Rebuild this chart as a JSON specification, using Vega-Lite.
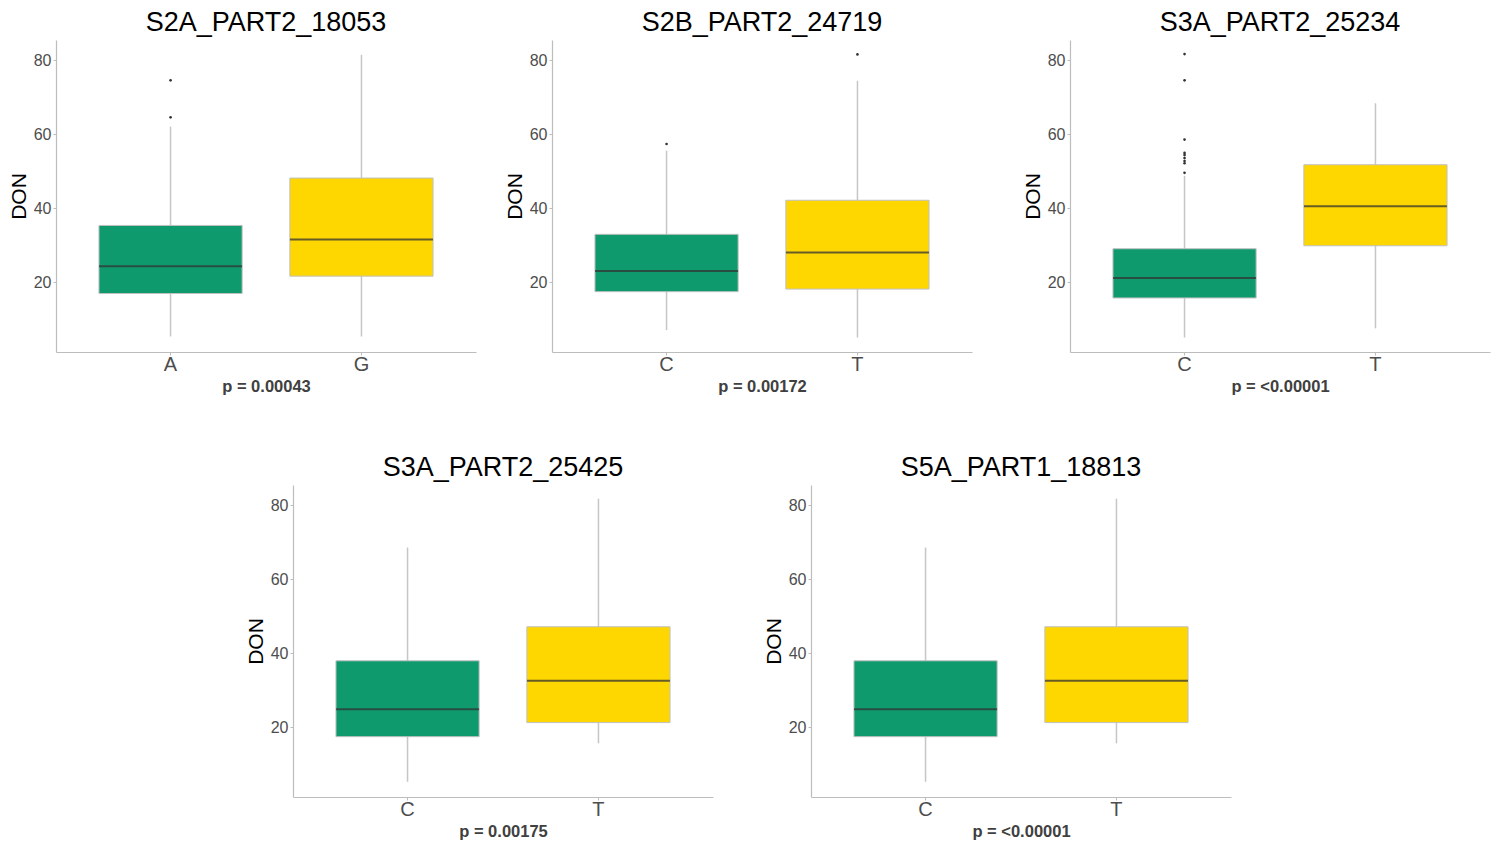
{
  "$schema": "https://vega.github.io/schema/vega-lite/v6.json",
  "padding": {"left": 8, "top": 9, "right": 4, "bottom": 4},
  "background": "white",
  "datasets": {
    "boxes": [
      {"panel": "S2A_PART2_18053", "allele": "A", "lower": 5.4, "q1": 17.0, "median": 24.4, "q3": 35.4, "upper": 62.1},
      {"panel": "S2A_PART2_18053", "allele": "G", "lower": 5.4, "q1": 21.7, "median": 31.6, "q3": 48.2, "upper": 81.5},
      {"panel": "S2B_PART2_24719", "allele": "C", "lower": 7.1, "q1": 17.5, "median": 23.1, "q3": 33.0, "upper": 55.6},
      {"panel": "S2B_PART2_24719", "allele": "T", "lower": 5.1, "q1": 18.2, "median": 28.1, "q3": 42.2, "upper": 74.5},
      {"panel": "S3A_PART2_25234", "allele": "C", "lower": 5.1, "q1": 15.8, "median": 21.2, "q3": 29.1, "upper": 48.8},
      {"panel": "S3A_PART2_25234", "allele": "T", "lower": 7.6, "q1": 29.9, "median": 40.6, "q3": 51.8, "upper": 68.4},
      {"panel": "S3A_PART2_25425", "allele": "C", "lower": 5.3, "q1": 17.5, "median": 24.9, "q3": 38.0, "upper": 68.6},
      {"panel": "S3A_PART2_25425", "allele": "T", "lower": 15.7, "q1": 21.3, "median": 32.6, "q3": 47.2, "upper": 81.8},
      {"panel": "S5A_PART1_18813", "allele": "C", "lower": 5.3, "q1": 17.5, "median": 24.9, "q3": 38.0, "upper": 68.6},
      {"panel": "S5A_PART1_18813", "allele": "T", "lower": 15.7, "q1": 21.3, "median": 32.6, "q3": 47.2, "upper": 81.8}
    ],
    "outliers": [
      {"panel": "S2A_PART2_18053", "allele": "A", "value": 64.6},
      {"panel": "S2A_PART2_18053", "allele": "A", "value": 74.6},
      {"panel": "S2B_PART2_24719", "allele": "C", "value": 57.4},
      {"panel": "S2B_PART2_24719", "allele": "T", "value": 81.6},
      {"panel": "S3A_PART2_25234", "allele": "C", "value": 49.6},
      {"panel": "S3A_PART2_25234", "allele": "C", "value": 52.2},
      {"panel": "S3A_PART2_25234", "allele": "C", "value": 52.8},
      {"panel": "S3A_PART2_25234", "allele": "C", "value": 53.6},
      {"panel": "S3A_PART2_25234", "allele": "C", "value": 54.4},
      {"panel": "S3A_PART2_25234", "allele": "C", "value": 55.0},
      {"panel": "S3A_PART2_25234", "allele": "C", "value": 58.6},
      {"panel": "S3A_PART2_25234", "allele": "C", "value": 74.6},
      {"panel": "S3A_PART2_25234", "allele": "C", "value": 81.7}
    ],
    "none": []
  },
  "spacing": 59,
  "vconcat": [
    {
      "spacing": 50,
      "hconcat": [
        {
          "spacing": 28,
          "hconcat": [
            {
              "width": 420, "height": 312,
              "title": "S2A_PART2_18053",
              "layer": [
                {"data": {"name": "boxes"}, "transform": [{"filter": "datum.panel === 'S2A_PART2_18053'"}],
                 "mark": {"type": "rule", "color": "#c6c6c6", "strokeWidth": 1.5},
                 "encoding": {
                   "x": {"field": "allele", "type": "nominal", "scale": {"domain": ["A", "G"], "paddingInner": 0.25, "paddingOuter": 0.225}, "axis": {"title": "p = 0.00043"}},
                   "y": {"field": "lower", "type": "quantitative", "scale": {"domain": [1.2, 85.5], "nice": false, "zero": false}, "axis": {"title": "DON", "values": [20, 40, 60, 80]}},
                   "y2": {"field": "upper"}}},
                {"data": {"name": "boxes"}, "transform": [{"filter": "datum.panel === 'S2A_PART2_18053'"}],
                 "mark": {"type": "bar", "stroke": "#c0c0c0", "strokeWidth": 1},
                 "encoding": {
                   "x": {"field": "allele", "type": "nominal", "scale": {"domain": ["A", "G"], "paddingInner": 0.25, "paddingOuter": 0.225}, "axis": {"title": "p = 0.00043"}},
                   "y": {"field": "q1", "type": "quantitative", "title": "DON"},
                   "y2": {"field": "q3"},
                   "color": {"field": "allele", "type": "nominal", "scale": {"domain": ["A", "C", "G", "T"], "range": ["#0F9A6E", "#0F9A6E", "#FFD700", "#FFD700"]}, "legend": null}}},
                {"data": {"name": "boxes"}, "transform": [{"filter": "datum.panel === 'S2A_PART2_18053'"}],
                 "mark": {"type": "tick", "color": "#333333", "opacity": 0.75, "thickness": 2, "size": 143},
                 "encoding": {
                   "x": {"field": "allele", "type": "nominal", "scale": {"domain": ["A", "G"], "paddingInner": 0.25, "paddingOuter": 0.225}, "axis": {"title": "p = 0.00043"}},
                   "y": {"field": "median", "type": "quantitative", "title": "DON"}}},
                {"data": {"name": "outliers"}, "transform": [{"filter": "datum.panel === 'S2A_PART2_18053'"}],
                 "mark": {"type": "circle", "color": "#333333", "size": 7, "opacity": 1},
                 "encoding": {
                   "x": {"field": "allele", "type": "nominal", "scale": {"domain": ["A", "G"], "paddingInner": 0.25, "paddingOuter": 0.225}, "axis": {"title": "p = 0.00043"}},
                   "y": {"field": "value", "type": "quantitative", "title": "DON"}}}
              ]
            },
            {
              "width": 420, "height": 312,
              "title": "S2B_PART2_24719",
              "layer": [
                {"data": {"name": "boxes"}, "transform": [{"filter": "datum.panel === 'S2B_PART2_24719'"}],
                 "mark": {"type": "rule", "color": "#c6c6c6", "strokeWidth": 1.5},
                 "encoding": {
                   "x": {"field": "allele", "type": "nominal", "scale": {"domain": ["C", "T"], "paddingInner": 0.25, "paddingOuter": 0.225}, "axis": {"title": "p = 0.00172"}},
                   "y": {"field": "lower", "type": "quantitative", "scale": {"domain": [1.2, 85.5], "nice": false, "zero": false}, "axis": {"title": "DON", "values": [20, 40, 60, 80]}},
                   "y2": {"field": "upper"}}},
                {"data": {"name": "boxes"}, "transform": [{"filter": "datum.panel === 'S2B_PART2_24719'"}],
                 "mark": {"type": "bar", "stroke": "#c0c0c0", "strokeWidth": 1},
                 "encoding": {
                   "x": {"field": "allele", "type": "nominal", "scale": {"domain": ["C", "T"], "paddingInner": 0.25, "paddingOuter": 0.225}, "axis": {"title": "p = 0.00172"}},
                   "y": {"field": "q1", "type": "quantitative", "title": "DON"},
                   "y2": {"field": "q3"},
                   "color": {"field": "allele", "type": "nominal", "scale": {"domain": ["A", "C", "G", "T"], "range": ["#0F9A6E", "#0F9A6E", "#FFD700", "#FFD700"]}, "legend": null}}},
                {"data": {"name": "boxes"}, "transform": [{"filter": "datum.panel === 'S2B_PART2_24719'"}],
                 "mark": {"type": "tick", "color": "#333333", "opacity": 0.75, "thickness": 2, "size": 143},
                 "encoding": {
                   "x": {"field": "allele", "type": "nominal", "scale": {"domain": ["C", "T"], "paddingInner": 0.25, "paddingOuter": 0.225}, "axis": {"title": "p = 0.00172"}},
                   "y": {"field": "median", "type": "quantitative", "title": "DON"}}},
                {"data": {"name": "outliers"}, "transform": [{"filter": "datum.panel === 'S2B_PART2_24719'"}],
                 "mark": {"type": "circle", "color": "#333333", "size": 7, "opacity": 1},
                 "encoding": {
                   "x": {"field": "allele", "type": "nominal", "scale": {"domain": ["C", "T"], "paddingInner": 0.25, "paddingOuter": 0.225}, "axis": {"title": "p = 0.00172"}},
                   "y": {"field": "value", "type": "quantitative", "title": "DON"}}}
              ]
            }
          ]
        },
        {
          "width": 420, "height": 312,
          "title": "S3A_PART2_25234",
          "layer": [
            {"data": {"name": "boxes"}, "transform": [{"filter": "datum.panel === 'S3A_PART2_25234'"}],
             "mark": {"type": "rule", "color": "#c6c6c6", "strokeWidth": 1.5},
             "encoding": {
               "x": {"field": "allele", "type": "nominal", "scale": {"domain": ["C", "T"], "paddingInner": 0.25, "paddingOuter": 0.225}, "axis": {"title": "p = <0.00001"}},
               "y": {"field": "lower", "type": "quantitative", "scale": {"domain": [1.2, 85.5], "nice": false, "zero": false}, "axis": {"title": "DON", "values": [20, 40, 60, 80]}},
               "y2": {"field": "upper"}}},
            {"data": {"name": "boxes"}, "transform": [{"filter": "datum.panel === 'S3A_PART2_25234'"}],
             "mark": {"type": "bar", "stroke": "#c0c0c0", "strokeWidth": 1},
             "encoding": {
               "x": {"field": "allele", "type": "nominal", "scale": {"domain": ["C", "T"], "paddingInner": 0.25, "paddingOuter": 0.225}, "axis": {"title": "p = <0.00001"}},
               "y": {"field": "q1", "type": "quantitative", "title": "DON"},
               "y2": {"field": "q3"},
               "color": {"field": "allele", "type": "nominal", "scale": {"domain": ["A", "C", "G", "T"], "range": ["#0F9A6E", "#0F9A6E", "#FFD700", "#FFD700"]}, "legend": null}}},
            {"data": {"name": "boxes"}, "transform": [{"filter": "datum.panel === 'S3A_PART2_25234'"}],
             "mark": {"type": "tick", "color": "#333333", "opacity": 0.75, "thickness": 2, "size": 143},
             "encoding": {
               "x": {"field": "allele", "type": "nominal", "scale": {"domain": ["C", "T"], "paddingInner": 0.25, "paddingOuter": 0.225}, "axis": {"title": "p = <0.00001"}},
               "y": {"field": "median", "type": "quantitative", "title": "DON"}}},
            {"data": {"name": "outliers"}, "transform": [{"filter": "datum.panel === 'S3A_PART2_25234'"}],
             "mark": {"type": "circle", "color": "#333333", "size": 7, "opacity": 1},
             "encoding": {
               "x": {"field": "allele", "type": "nominal", "scale": {"domain": ["C", "T"], "paddingInner": 0.25, "paddingOuter": 0.225}, "axis": {"title": "p = <0.00001"}},
               "y": {"field": "value", "type": "quantitative", "title": "DON"}}}
          ]
        }
      ]
    },
    {
      "spacing": 50,
      "hconcat": [
        {
          "width": 139, "height": 1,
          "data": {"name": "none"},
          "mark": "point",
          "encoding": {}
        },
        {
          "width": 420, "height": 312,
          "title": "S3A_PART2_25425",
          "layer": [
            {"data": {"name": "boxes"}, "transform": [{"filter": "datum.panel === 'S3A_PART2_25425'"}],
             "mark": {"type": "rule", "color": "#c6c6c6", "strokeWidth": 1.5},
             "encoding": {
               "x": {"field": "allele", "type": "nominal", "scale": {"domain": ["C", "T"], "paddingInner": 0.25, "paddingOuter": 0.225}, "axis": {"title": "p = 0.00175"}},
               "y": {"field": "lower", "type": "quantitative", "scale": {"domain": [1.2, 85.5], "nice": false, "zero": false}, "axis": {"title": "DON", "values": [20, 40, 60, 80]}},
               "y2": {"field": "upper"}}},
            {"data": {"name": "boxes"}, "transform": [{"filter": "datum.panel === 'S3A_PART2_25425'"}],
             "mark": {"type": "bar", "stroke": "#c0c0c0", "strokeWidth": 1},
             "encoding": {
               "x": {"field": "allele", "type": "nominal", "scale": {"domain": ["C", "T"], "paddingInner": 0.25, "paddingOuter": 0.225}, "axis": {"title": "p = 0.00175"}},
               "y": {"field": "q1", "type": "quantitative", "title": "DON"},
               "y2": {"field": "q3"},
               "color": {"field": "allele", "type": "nominal", "scale": {"domain": ["A", "C", "G", "T"], "range": ["#0F9A6E", "#0F9A6E", "#FFD700", "#FFD700"]}, "legend": null}}},
            {"data": {"name": "boxes"}, "transform": [{"filter": "datum.panel === 'S3A_PART2_25425'"}],
             "mark": {"type": "tick", "color": "#333333", "opacity": 0.75, "thickness": 2, "size": 143},
             "encoding": {
               "x": {"field": "allele", "type": "nominal", "scale": {"domain": ["C", "T"], "paddingInner": 0.25, "paddingOuter": 0.225}, "axis": {"title": "p = 0.00175"}},
               "y": {"field": "median", "type": "quantitative", "title": "DON"}}}
          ]
        },
        {
          "width": 420, "height": 312,
          "title": "S5A_PART1_18813",
          "layer": [
            {"data": {"name": "boxes"}, "transform": [{"filter": "datum.panel === 'S5A_PART1_18813'"}],
             "mark": {"type": "rule", "color": "#c6c6c6", "strokeWidth": 1.5},
             "encoding": {
               "x": {"field": "allele", "type": "nominal", "scale": {"domain": ["C", "T"], "paddingInner": 0.25, "paddingOuter": 0.225}, "axis": {"title": "p = <0.00001"}},
               "y": {"field": "lower", "type": "quantitative", "scale": {"domain": [1.2, 85.5], "nice": false, "zero": false}, "axis": {"title": "DON", "values": [20, 40, 60, 80]}},
               "y2": {"field": "upper"}}},
            {"data": {"name": "boxes"}, "transform": [{"filter": "datum.panel === 'S5A_PART1_18813'"}],
             "mark": {"type": "bar", "stroke": "#c0c0c0", "strokeWidth": 1},
             "encoding": {
               "x": {"field": "allele", "type": "nominal", "scale": {"domain": ["C", "T"], "paddingInner": 0.25, "paddingOuter": 0.225}, "axis": {"title": "p = <0.00001"}},
               "y": {"field": "q1", "type": "quantitative", "title": "DON"},
               "y2": {"field": "q3"},
               "color": {"field": "allele", "type": "nominal", "scale": {"domain": ["A", "C", "G", "T"], "range": ["#0F9A6E", "#0F9A6E", "#FFD700", "#FFD700"]}, "legend": null}}},
            {"data": {"name": "boxes"}, "transform": [{"filter": "datum.panel === 'S5A_PART1_18813'"}],
             "mark": {"type": "tick", "color": "#333333", "opacity": 0.75, "thickness": 2, "size": 143},
             "encoding": {
               "x": {"field": "allele", "type": "nominal", "scale": {"domain": ["C", "T"], "paddingInner": 0.25, "paddingOuter": 0.225}, "axis": {"title": "p = <0.00001"}},
               "y": {"field": "median", "type": "quantitative", "title": "DON"}}}
          ]
        }
      ]
    }
  ],
  "config": {
    "font": "Liberation Sans",
    "view": {"stroke": null},
    "title": {"fontSize": 27, "fontWeight": "normal", "color": "#000000", "offset": 3, "anchor": "middle"},
    "axis": {"grid": false, "domainColor": "#bdbdbd", "domainWidth": 1.2, "tickColor": "#bdbdbd", "tickSize": 3, "labelColor": "#4d4d4d", "titleColor": "#000000"},
    "axisY": {"labelFontSize": 16, "titleFontSize": 21, "titleFontWeight": "normal", "titlePadding": 4, "labelPadding": 2},
    "axisX": {"labelFontSize": 20, "labelAngle": 0, "titleFontSize": 16.5, "titleFontWeight": "bold", "titleColor": "#404040", "labelPadding": -1, "titlePadding": 4}
  }
}
